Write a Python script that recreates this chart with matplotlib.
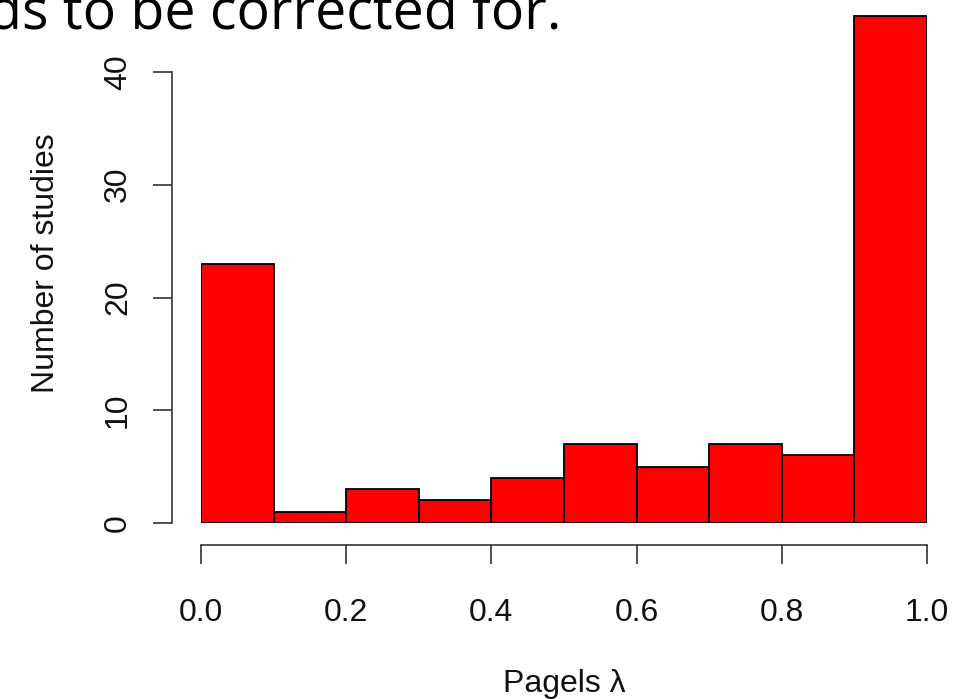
"""
Histogram of Pagel's lambda across studies (R base-graphics look).
"""

import numpy as np
import matplotlib
matplotlib.use("Agg")
import matplotlib.pyplot as plt

matplotlib.rcParams.update({
    "font.family": ["Liberation Sans", "DejaVu Sans"],
})

# ─── Data ────────────────────────────────────────────────────────────────────

bin_edges = [0.0, 0.1, 0.2, 0.3, 0.4, 0.5, 0.6, 0.7, 0.8, 0.9, 1.0]
counts = [23, 1, 3, 2, 4, 7, 5, 7, 6, 45]
x_ticks = [0.0, 0.2, 0.4, 0.6, 0.8, 1.0]
x_tick_labels = ["0.0", "0.2", "0.4", "0.6", "0.8", "1.0"]
y_ticks = [0, 10, 20, 30, 40]

BAR_COLOR = "#FF0000"
AXIS_COLOR = "#333333"
TEXT_COLOR = "#111111"
FS = 23

# ─── Figure ──────────────────────────────────────────────────────────────────

W, H = 966, 699
fig = plt.figure(figsize=(W / 100, H / 100), dpi=100)

# axes placed so that data x 0..1 -> px 201..927 and y 0..40 -> px 523..72
ymax = 46
px_per_unit = (523 - 72) / 40
top_px = 523 - ymax * px_per_unit
ax = fig.add_axes([201 / W, (H - 523) / H, 726 / W, (523 - top_px) / H])

edges = np.array(bin_edges)
ax.bar(edges[:-1], counts, width=np.diff(edges), align="edge",
       color=BAR_COLOR, edgecolor="black", linewidth=1.3)

ax.set_xlim(0, 1)
ax.set_ylim(0, ymax)

# R-style detached axes
for side in ("top", "right"):
    ax.spines[side].set_visible(False)
ax.spines["left"].set_position(("outward", 29 * 0.72))
ax.spines["bottom"].set_position(("outward", 22 * 0.72))
ax.spines["left"].set_bounds(0, 40)
ax.spines["bottom"].set_bounds(0, 1)
for side in ("left", "bottom"):
    ax.spines[side].set_color(AXIS_COLOR)
    ax.spines[side].set_linewidth(1.2)

ax.set_xticks(x_ticks)
ax.set_xticklabels(x_tick_labels)
ax.set_yticks(y_ticks)
ax.set_yticklabels([str(v) for v in y_ticks], rotation=90, va="center")
ax.tick_params(axis="both", direction="out", length=14, width=1.2,
               color=AXIS_COLOR, labelsize=FS, labelcolor=TEXT_COLOR)
ax.tick_params(axis="x", pad=24)
ax.tick_params(axis="y", pad=14)

ax.set_xlabel("Pagels λ", fontsize=FS, color=TEXT_COLOR, labelpad=30)
ax.set_ylabel("Number of studies", fontsize=FS, color=TEXT_COLOR, labelpad=30)

# cropped slide text at the top
fig.text(-0.012, 1 - 30 / H, "ds to be corrected for.", fontsize=40,
         family=["Open Sans", "DejaVu Sans"], color="black",
         ha="left", va="baseline")

fig.savefig("out.png", dpi=100, facecolor="white")
